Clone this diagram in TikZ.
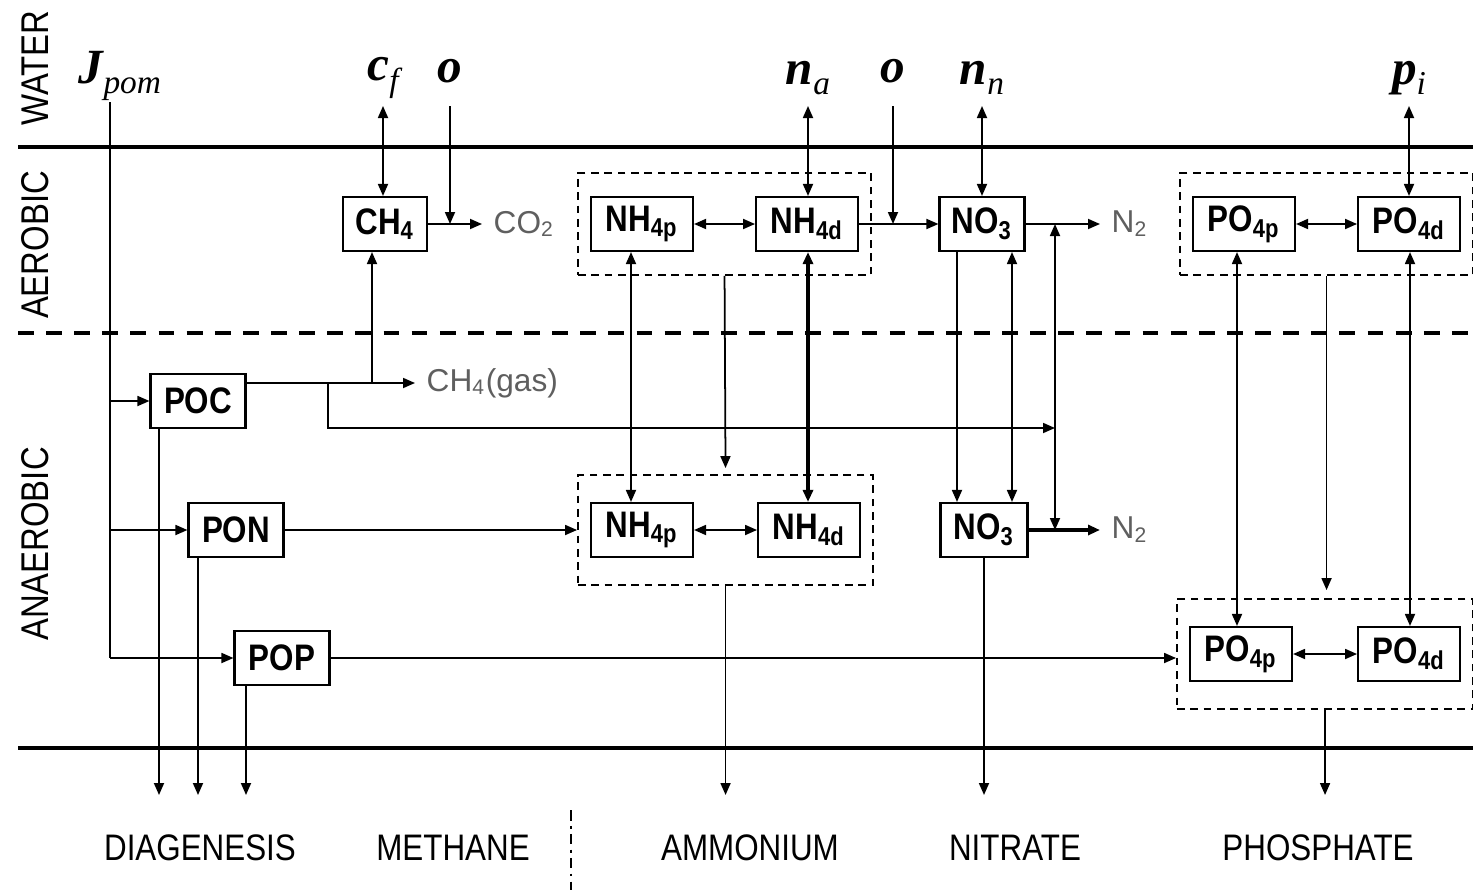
\documentclass[tikz,border=0pt]{standalone}
\usepackage{fontspec}
\setmainfont{Liberation Sans}
\newfontfamily\narrowfont[FakeStretch=0.85]{Liberation Sans}
\newfontfamily\fluxfont{Liberation Serif}
\usepackage{amsmath}
\usepackage{tikz}
\usetikzlibrary{positioning, calc, arrows.meta, fit}
\definecolor{gasGray}{RGB}{95, 95, 95}
\newcommand{\flx}[2]{{\bfseries\itshape #1}\raisebox{-0.45ex}{\fontsize{9.5}{10}\selectfont\itshape #2}}

\begin{document}
\begin{tikzpicture}[
    x=0.1mm, y=-0.1mm,
    box/.style={rectangle, draw, line width=0.6pt, minimum width=10.2mm,
                minimum height=5.4mm, inner sep=1pt, align=center,
                font=\narrowfont\fontsize{10.5}{12}\selectfont\bfseries},
    grpbox/.style={draw, line width=0.5pt, dash pattern=on 2.2pt off 1.6pt,
                inner xsep=1.2mm, inner ysep=2.3mm},
    arrow/.style={-{Triangle[length=1.2mm, width=1mm]}, line width=0.5pt},
    biarrow/.style={{Triangle[length=1.2mm, width=1mm]}-{Triangle[length=1.2mm, width=1mm]},
                line width=0.5pt},
    zone/.style={line width=1.3pt},
    layerlabel/.style={rotate=90, font=\narrowfont\fontsize{11}{13}\selectfont},
    catlabel/.style={font=\narrowfont\fontsize{10.5}{12}\selectfont},
    gastext/.style={anchor=west, inner sep=1.1mm, text=gasGray,
                font=\fontsize{9}{11}\selectfont},
    flux/.style={font=\fluxfont\fontsize{14}{16}\selectfont, inner sep=1pt},
  ]
    \useasboundingbox (0,0) rectangle (1473,894);

    % layers
    \draw[zone] (18,147) -- (1473,147);
    \draw[zone, dash pattern=on 4.5pt off 3.5pt] (18,333) -- (1473,333);
    \draw[zone] (18,748) -- (1473,748);
    \node[layerlabel] at (35,68) {WATER};
    \node[layerlabel] at (35,245) {AEROBIC};
    \node[layerlabel] at (35,544) {ANAEROBIC};

    % fluxes from the water
    \node[flux] (Jpom) at (120,76) {\flx{J}{pom}};
    \node[flux] (cf) at (383,78) {\flx{c}{f}};
    \node[flux] (o1) at (450,76) {\flx{o}{}};
    \node[flux] (na) at (808,78) {\flx{n}{a}};
    \node[flux] (o2) at (893,76) {\flx{o}{}};
    \node[flux] (nn) at (982,78) {\flx{n}{n}};
    \node[flux] (pi) at (1409,78) {\flx{p}{i}};
    \coordinate (wtop) at (0,106);
    \coordinate (jtop) at (110,102);

    % aerobic layer
    \node[box, minimum width=8.4mm] (CH4) at (385,224) {CH\textsubscript{4}};
    \node[gastext] (CO2) at (482,224) {CO\textsubscript{2}};
    \node[box] (NH4pA) at (642,224) {NH\textsubscript{4p}};
    \node[box, right=6.1mm of NH4pA] (NH4dA) {NH\textsubscript{4d}};
    \node[box, minimum width=8.5mm] (NO3A) at (982,224) {NO\textsubscript{3}};
    \node[gastext] (N2a) at (1100,224) {N\textsubscript{2}};
    \node[box] (PO4pA) at (1244,224) {PO\textsubscript{4p}};
    \node[box, right=6.1mm of PO4pA] (PO4dA) {PO\textsubscript{4d}};
    \node[grpbox, fit=(NH4pA)(NH4dA)] (gNHA) {};
    \node[grpbox, fit=(PO4pA)(PO4dA)] (gPOA) {};

    % anaerobic layer
    \node[box, minimum width=9.5mm] (POC) at (198,401) {POC};
    \node[gastext] (gas) at (415,383) {CH\textsubscript{4}(gas)};
    \node[box, minimum width=9.5mm] (PON) at (236,530) {PON};
    \node[box, minimum width=9.5mm] (POP) at (282,658) {POP};
    \node[box] (NH4pB) at (642,530) {NH\textsubscript{4p}};
    \node[box, right=6.3mm of NH4pB] (NH4dB) {NH\textsubscript{4d}};
    \node[box, minimum width=8.7mm] (NO3B) at (984,530) {NO\textsubscript{3}};
    \node[gastext] (N2b) at (1100,530) {N\textsubscript{2}};
    \node[box] (PO4pB) at (1241,654) {PO\textsubscript{4p}};
    \node[box, right=6.4mm of PO4pB] (PO4dB) {PO\textsubscript{4d}};
    \node[grpbox, inner ysep=2.7mm, fit=(NH4pB)(NH4dB)] (gNHB) {};
    \node[grpbox, inner ysep=2.7mm, fit=(PO4pB)(PO4dB)] (gPOB) {};

    % exchange with the water
    \draw[biarrow] (cf |- wtop) -- (cf |- CH4.north);
    \draw[arrow] (o1 |- wtop) -- (o1 |- CH4);
    \draw[biarrow] (na |- wtop) -- (na |- NH4dA.north);
    \draw[arrow] (o2 |- wtop) -- (o2 |- NH4dA);
    \draw[biarrow] (nn |- wtop) -- (nn |- NO3A.north);
    \draw[biarrow] (pi |- wtop) -- (pi |- PO4dA.north);

    % aerobic reactions
    \draw[arrow] (CH4) -- (CO2);
    \draw[biarrow] (NH4pA) -- (NH4dA);
    \draw[arrow] (NH4dA) -- (NO3A);
    \draw[arrow] (NO3A) -- (N2a);
    \draw[biarrow] (PO4pA) -- (PO4dA);

    % diagenesis
    \draw (jtop) -- (jtop |- POP);
    \draw[arrow] (jtop |- POC) -- (POC);
    \draw[arrow] (jtop |- PON) -- (PON);
    \draw[arrow] (jtop |- POP) -- (POP);
    \draw[arrow] ([yshift=1.8mm]POC.east) -- (gas);
    \coordinate (jc) at (372,383);
    \coordinate (jd) at (328,383);
    \coordinate (den) at (1055,428);
    \draw[arrow] (jc) -- (jc |- CH4.south);
    \draw[arrow] (jd) |- (den);
    \draw[biarrow] (den |- NO3A) -- (den |- NO3B);
    \draw[arrow] (PON) -- (PON -| gNHB.west);
    \draw[arrow] (POP) -- (POP -| gPOB.west);

    % anaerobic reactions
    \draw[biarrow] (NH4pB) -- (NH4dB);
    \draw[arrow, line width=1.1pt] (NO3B) -- (N2b);
    \draw[biarrow] (PO4pB) -- (PO4dB);

    % between the layers
    \draw[biarrow] (NH4pA.south -| 631,0) -- (NH4pB.north -| 631,0);
    \draw[arrow, shorten >=0.6mm] (gNHA.south) -- (gNHB.north);
    \draw[biarrow, line width=1.1pt] (NH4dA.south -| 808,0) -- (NH4dB.north -| 808,0);
    \draw[arrow] (NO3A.south -| 957,0) -- (NO3B.north -| 957,0);
    \draw[biarrow] (NO3A.south -| 1012,0) -- (NO3B.north -| 1012,0);
    \draw[biarrow] (PO4pA.south -| 1237,0) -- (PO4pB.north -| 1237,0);
    \draw[arrow, shorten >=0.8mm] (gPOA.south) -- (gPOA.south |- gPOB.north);
    \draw[biarrow] (PO4dA.south -| 1410,0) -- (PO4dB.north -| 1410,0);

    % burial
    \coordinate (bed) at (0,795);
    \foreach \n/\x in {POC/159, PON/198, POP/246}
      \draw[arrow] (\n.south -| \x,0) -- (bed -| \x,0);
    \draw[arrow] (gNHB.south) -- (gNHB.south |- bed);
    \draw[arrow] (NO3B.south) -- (NO3B.south |- bed);
    \draw[arrow] (gPOB.south) -- (gPOB.south |- bed);

    \node[catlabel] (DIA) at (200,848) {DIAGENESIS};
    \node[catlabel] (MET) at (453,848) {METHANE};
    \node[catlabel] (AMM) at (750,848) {AMMONIUM};
    \node[catlabel] (NIT) at (1015,848) {NITRATE};
    \node[catlabel] (PHO) at (1318,848) {PHOSPHATE};
    \coordinate (sepT) at (571,810);
    \coordinate (sepB) at (571,890);
    \draw[line width=0.4pt, dash pattern=on 3pt off 1.5pt on 0.8pt off 1.5pt] (sepT) -- (sepB);
  \end{tikzpicture}
\end{document}
